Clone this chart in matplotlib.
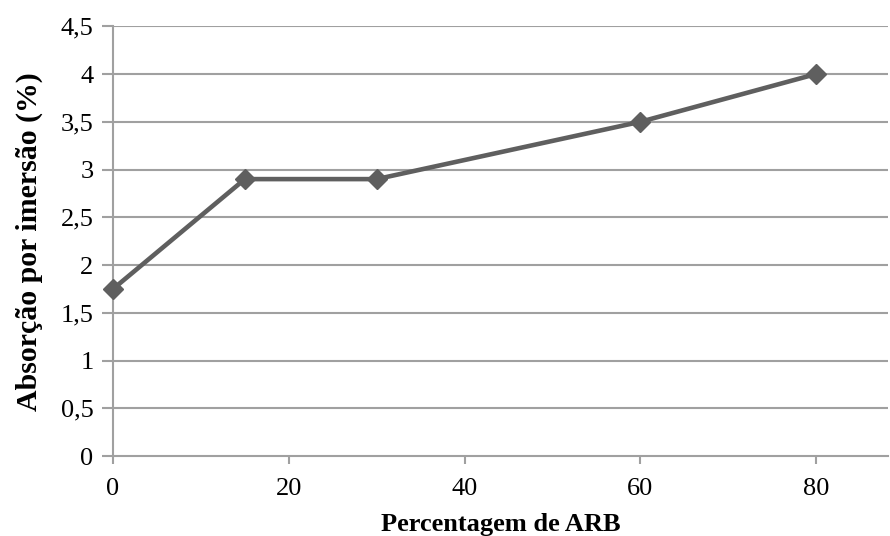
import matplotlib.pyplot as plt

plt.rcParams['font.family'] = ['Liberation Serif', 'DejaVu Serif']

arb = [0, 15, 30, 60, 80]
absorcao = [1.75, 2.9, 2.9, 3.5, 4.0]
yticks = [0, 0.5, 1, 1.5, 2, 2.5, 3, 3.5, 4, 4.5]
ylabels = ['0', '0,5', '1', '1,5', '2', '2,5', '3', '3,5', '4', '4,5']
xticks = [0, 20, 40, 60, 80]

fig = plt.figure(figsize=(8.9, 5.36), dpi=100)
ax = fig.add_axes([0.127, 0.149, 0.871, 0.802])

grid = '#a0a0a0'
for y in yticks[1:]:
    ax.axhline(y, color=grid, lw=1.5, zorder=1)

ax.plot(arb, absorcao, color='#5f5f5f', lw=3.3, marker='D', markersize=10,
        zorder=3, clip_on=False)

ax.set_xlim(0, 88.2)
ax.set_ylim(0, 4.5)
ax.set_xticks(xticks)
ax.set_yticks(yticks)
ax.set_yticklabels(ylabels)
ax.tick_params(axis='both', labelsize=19, colors=grid, labelcolor='black',
               width=1.5)
ax.tick_params(axis='y', length=8, pad=6)
ax.tick_params(axis='x', length=6, pad=10)

for s in ['top', 'right']:
    ax.spines[s].set_visible(False)
for s in ['left', 'bottom']:
    ax.spines[s].set_color(grid)
    ax.spines[s].set_linewidth(1.5)

ax.set_xlabel('Percentagem de ARB', fontsize=19, fontweight='bold', labelpad=9)
ax.set_ylabel('Absorção por imersão (%)', fontsize=21.5, fontweight='bold', labelpad=13)

fig.savefig('out.png', dpi=100)
